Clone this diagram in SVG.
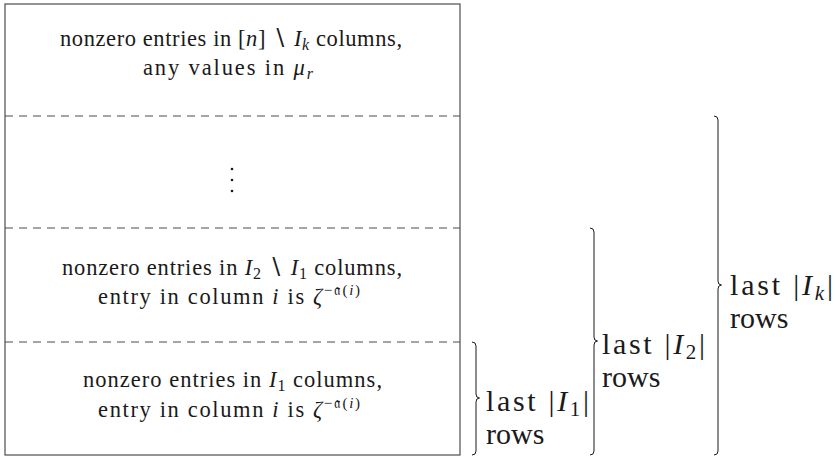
<svg xmlns="http://www.w3.org/2000/svg" width="837" height="459" viewBox="0 0 837 459">
<style>
.t{font-family:"Liberation Serif","DejaVu Serif",serif;font-size:22.5px;fill:#1a1a1a;text-anchor:middle}
.l{font-family:"Liberation Serif","DejaVu Serif",serif;font-size:30px;fill:#1a1a1a}
.i{font-style:italic}
.s{font-size:16px}
.ls{font-size:21px}
.ss{font-size:15px}
.box{fill:#fff;stroke:#4d4d4d;stroke-width:1.2}
.dash{stroke:#4d4d4d;stroke-width:1.2;stroke-dasharray:8 6;fill:none}
.br{fill:none;stroke:#1a1a1a;stroke-width:1}
</style>
<g id="matrix">
<rect class="box" x="5" y="4" width="455" height="451"/>
</g>
<g id="row-top">
<text class="t" x="231" y="46" textLength="342">nonzero entries in [<tspan class="i">n</tspan>] ∖ <tspan class="i">I</tspan><tspan class="i s" dy="4">k</tspan><tspan dy="-4"> columns,</tspan></text>
<text class="t" x="228" y="75" textLength="170">any values in <tspan class="i">μ</tspan><tspan class="i s" dy="4">r</tspan></text>
</g>
<g id="row-dots">
<circle cx="232" cy="169" r="1.3" fill="#1a1a1a"/>
<circle cx="232" cy="180" r="1.3" fill="#1a1a1a"/>
<circle cx="232" cy="191" r="1.3" fill="#1a1a1a"/>
</g>
<g id="row-I2">
<text class="t" x="232" y="275" textLength="340">nonzero entries in <tspan class="i">I</tspan><tspan class="s" dy="4">2</tspan><tspan dy="-4"> ∖ </tspan><tspan class="i">I</tspan><tspan class="s" dy="4">1</tspan><tspan dy="-4"> columns,</tspan></text>
<text class="t" x="229" y="304" textLength="262">entry in column <tspan class="i">i</tspan> is <tspan class="i">ζ</tspan><tspan class="ss" dy="-9">−𝔞(<tspan class="i">i</tspan>)</tspan></text>
</g>
<g id="row-I1">
<text class="t" x="232.5" y="387" textLength="299">nonzero entries in <tspan class="i">I</tspan><tspan class="s" dy="4">1</tspan><tspan dy="-4"> columns,</tspan></text>
<text class="t" x="229" y="417" textLength="262">entry in column <tspan class="i">i</tspan> is <tspan class="i">ζ</tspan><tspan class="ss" dy="-9">−𝔞(<tspan class="i">i</tspan>)</tspan></text>
</g>
<g id="connectors">
<line class="dash" x1="5" y1="116" x2="460" y2="116"/>
<line class="dash" x1="5" y1="228" x2="460" y2="228"/>
<line class="dash" x1="5" y1="342" x2="460" y2="342"/>
</g>
<g id="brace-I1">
<path class="br" d="M472 342 Q476 342 476 346 L476 394 Q476 398 479.5 398 Q476 398 476 402 L476 451 Q476 455 472 455"/>
<text class="l" x="486" y="411" textLength="103">last |<tspan class="i">I</tspan><tspan class="ls" dy="5">1</tspan><tspan dy="-5">|</tspan></text>
<text class="l" x="486" y="444">rows</text>
</g>
<g id="brace-I2">
<path class="br" d="M590 228 Q594 228 594 232 L594 337 Q594 341 597.5 341 Q594 341 594 345 L594 451 Q594 455 590 455"/>
<text class="l" x="602" y="354" textLength="103">last |<tspan class="i">I</tspan><tspan class="ls" dy="5">2</tspan><tspan dy="-5">|</tspan></text>
<text class="l" x="602" y="387">rows</text>
</g>
<g id="brace-Ik">
<path class="br" d="M714 116 Q718 116 718 120 L718 281 Q718 285 721.5 285 Q718 285 718 289 L718 451 Q718 455 714 455"/>
<text class="l" x="730" y="295" textLength="103">last |<tspan class="i">I</tspan><tspan class="i ls" dy="5">k</tspan><tspan dy="-5">|</tspan></text>
<text class="l" x="730" y="328">rows</text>
</g>
</svg>
